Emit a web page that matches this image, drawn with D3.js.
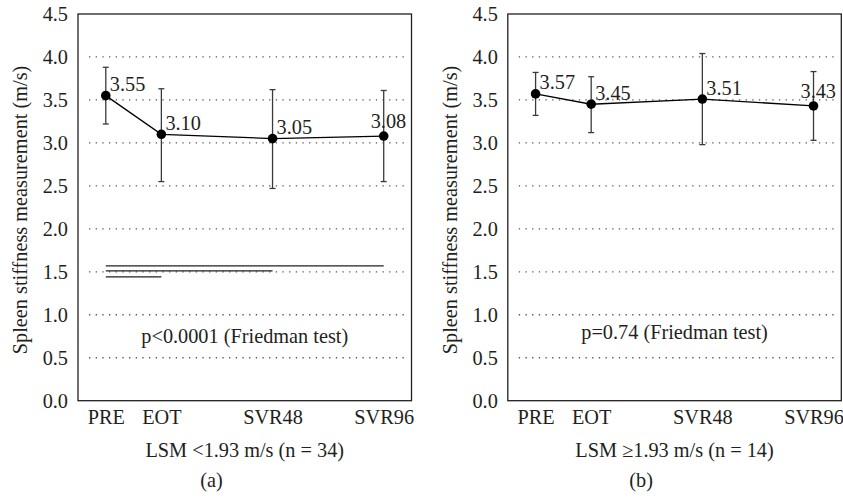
<!DOCTYPE html>
<html>
<head>
<meta charset="utf-8">
<script src="https://cdn.jsdelivr.net/npm/d3@7"></script>
<style>
  body { margin: 0; background: #fff; }
</style>
</head>
<body>
<div id="chart"></div>
<script>
// ---------- data ----------
const timepoints = ["PRE", "EOT", "SVR48", "SVR96"];
const weeks = [0, 24, 72, 120];            // spacing on the x axis follows the weeks
const yTicks = [0, 0.5, 1, 1.5, 2, 2.5, 3, 3.5, 4, 4.5];
const gridValues = [0.5, 1, 1.5, 2, 2.5, 3, 3.5, 4];

// panel (a): LSM <1.93 m/s
const meanA = [3.55, 3.10, 3.05, 3.08];
const upperA = [3.88, 3.63, 3.62, 3.61];
const lowerA = [3.22, 2.55, 2.47, 2.55];
// significance brackets PRE vs. later visits (level on the y axis)
const sigFromA = ["PRE", "PRE", "PRE"];
const sigToA = ["SVR96", "SVR48", "EOT"];
const sigLevelA = [1.57, 1.51, 1.44];

// panel (b): LSM >=1.93 m/s
const meanB = [3.57, 3.45, 3.51, 3.43];
const upperB = [3.82, 3.77, 4.04, 3.83];
const lowerB = [3.32, 3.12, 2.98, 3.03];

const panels = [
  { mean: meanA, upper: upperA, lower: lowerA, sigFrom: sigFromA, sigTo: sigToA, sigLevel: sigLevelA,
    pText: "p<0.0001 (Friedman test)", pY: 0.674, xTitle: "LSM <1.93 m/s (n = 34)", tag: "(a)", offset: 0 },
  { mean: meanB, upper: upperB, lower: lowerB, sigFrom: [], sigTo: [], sigLevel: [],
    pText: "p=0.74 (Friedman test)", pY: 0.723, xTitle: "LSM \u22651.93 m/s (n = 14)", tag: "(b)", offset: 429.8 }
];

// ---------- layout ----------
const W = 843, H = 502;
const mLeft = 78, mTop = 14, pw = 333.5, mBottom = 400.7;

const svg = d3.select("#chart").append("svg")
  .attr("width", W).attr("height", H)
  .attr("font-family", "Liberation Serif")
  .attr("font-size", 20.3);

const x = d3.scaleLinear().domain([-12, 132]).range([mLeft, mLeft + pw]);
const y = d3.scaleLinear().domain([0, 4.5]).range([mBottom, mTop]);
const weekOf = (name) => weeks[timepoints.indexOf(name)];

panels.forEach((p) => {
  const g = svg.append("g").attr("transform", `translate(${p.offset},0)`);

  // dotted gridlines
  g.append("g")
    .selectAll("line")
    .data(gridValues)
    .join("line")
    .attr("x1", mLeft + 11)
    .attr("x2", mLeft + pw - 5)
    .attr("y1", (d) => y(d))
    .attr("y2", (d) => y(d))
    .attr("stroke", "#555")
    .attr("stroke-width", 1.3)
    .attr("stroke-dasharray", "1.3,5.37");

  // frame
  g.append("rect")
    .attr("x", mLeft).attr("y", mTop)
    .attr("width", pw).attr("height", mBottom - mTop)
    .attr("fill", "none").attr("stroke", "#231f20").attr("stroke-width", 1.3);

  // y axis tick labels
  const ya = g.append("g")
    .attr("transform", `translate(${mLeft},0)`)
    .call(d3.axisLeft(y).tickValues(yTicks).tickFormat(d3.format(".1f")).tickSize(0).tickPadding(10));
  ya.select(".domain").remove();

  // x axis tick labels
  const xa = g.append("g")
    .attr("transform", `translate(0,${mBottom})`)
    .call(d3.axisBottom(x).tickValues(weeks).tickFormat((d, i) => timepoints[i]).tickSize(0).tickPadding(9));
  xa.select(".domain").remove();

  // significance lines
  g.append("g")
    .selectAll("line")
    .data(p.sigLevel)
    .join("line")
    .attr("x1", (d, i) => x(weekOf(p.sigFrom[i])))
    .attr("x2", (d, i) => x(weekOf(p.sigTo[i])))
    .attr("y1", (d) => y(d))
    .attr("y2", (d) => y(d))
    .attr("stroke", "#231f20")
    .attr("stroke-width", 1.3);

  // error bars
  const eb = g.append("g").attr("stroke", "#3a3a3a").attr("stroke-width", 1.3);
  eb.selectAll("line.v")
    .data(weeks)
    .join("line")
    .attr("class", "v")
    .attr("x1", (d) => x(d)).attr("x2", (d) => x(d))
    .attr("y1", (d, i) => y(p.upper[i])).attr("y2", (d, i) => y(p.lower[i]));
  eb.selectAll("line.cu")
    .data(weeks)
    .join("line")
    .attr("class", "cu")
    .attr("x1", (d) => x(d) - 3).attr("x2", (d) => x(d) + 3)
    .attr("y1", (d, i) => y(p.upper[i])).attr("y2", (d, i) => y(p.upper[i]));
  eb.selectAll("line.cl")
    .data(weeks)
    .join("line")
    .attr("class", "cl")
    .attr("x1", (d) => x(d) - 3).attr("x2", (d) => x(d) + 3)
    .attr("y1", (d, i) => y(p.lower[i])).attr("y2", (d, i) => y(p.lower[i]));

  // mean line and points
  const line = d3.line().x((d, i) => x(weeks[i])).y((d) => y(d));
  g.append("path")
    .datum(p.mean)
    .attr("d", line)
    .attr("fill", "none")
    .attr("stroke", "#000")
    .attr("stroke-width", 1.3);

  g.append("g")
    .selectAll("circle")
    .data(p.mean)
    .join("circle")
    .attr("cx", (d, i) => x(weeks[i]))
    .attr("cy", (d) => y(d))
    .attr("r", 4.8)
    .attr("fill", "#000");

  // value labels (last one pulled left to stay inside the frame)
  g.append("g")
    .selectAll("text")
    .data(p.mean)
    .join("text")
    .attr("x", (d, i) => x(weeks[i]) + (i === weeks.length - 1 ? -13 : 4))
    .attr("y", (d, i) => y(d) - (i === weeks.length - 1 ? 8 : 4.5))
    .text((d) => d.toFixed(2));

  // Friedman test
  g.append("text")
    .attr("x", mLeft + pw / 2)
    .attr("y", y(p.pY))
    .attr("text-anchor", "middle")
    .text(p.pText);

  // axis titles
  g.append("text")
    .attr("transform", `translate(27,210) rotate(-90)`)
    .attr("text-anchor", "middle")
    .text("Spleen stiffness measurement (m/s)");

  g.append("text")
    .attr("x", mLeft + pw / 2)
    .attr("y", 457)
    .attr("text-anchor", "middle")
    .text(p.xTitle);

  g.append("text")
    .attr("x", mLeft + pw * 0.4)
    .attr("y", 486.5)
    .attr("text-anchor", "middle")
    .text(p.tag);
});

// axis groups come with their own sans-serif font; let them inherit instead
svg.selectAll("g").attr("font-family", null).attr("font-size", null);
svg.selectAll("text").attr("fill", "#231f20");
</script>
</body>
</html>
